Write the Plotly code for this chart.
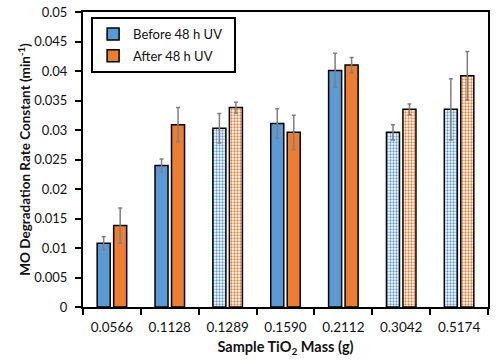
import plotly.graph_objects as go

masses = ["0.0566", "0.1128", "0.1289", "0.1590", "0.2112", "0.3042", "0.5174"]
before = [0.0108, 0.0240, 0.0303, 0.0311, 0.0401, 0.0296, 0.0335]
before_err = [0.0011, 0.0011, 0.0025, 0.0025, 0.0029, 0.0013, 0.0052]
after = [0.0138, 0.0309, 0.0338, 0.0296, 0.0410, 0.0335, 0.0392]
after_err = [0.0030, 0.0029, 0.0009, 0.0029, 0.0013, 0.0009, 0.0041]
patterned = [False, False, True, False, False, True, True]

BLUE = "#5B9BD5"
ORANGE = "#ED7D31"
FONT = "Lato"

def trace(name, y, err, color, group):
    shapes = ["." if p else "" for p in patterned]
    return go.Bar(
        name=name, x=masses, y=y, legendgroup=group,
        marker=dict(
            color=color,
            line=dict(color="black", width=1.5),
            pattern=dict(shape=shapes, fgcolor=color, bgcolor="white",
                         size=3, solidity=0.45, fillmode="replace"),
        ),
        error_y=dict(type="data", array=err, visible=True,
                     color="#7f7f7f", thickness=1.5, width=2),
    )

fig = go.Figure([
    trace("Before 48 h UV\u2002", before, before_err, BLUE, "a"),
    trace("After 48 h UV\u2002", after, after_err, ORANGE, "b"),
])

fig.update_layout(
    width=500, height=362,
    margin=dict(l=83, r=12, t=12, b=55, autoexpand=False),
    paper_bgcolor="white", plot_bgcolor="white",
    barmode="group", bargap=0.43, bargroupgap=0.21,
    font=dict(family=FONT, size=13.5, color="#111"),
    legend=dict(x=0.02, y=0.983, xanchor="left", yanchor="top",
                bordercolor="black", borderwidth=2, bgcolor="white",
                traceorder="grouped", tracegroupgap=2,
                font=dict(family=FONT, size=13, color="#111")),
    xaxis=dict(
        type="category", showline=True, linecolor="black", linewidth=2,
        mirror=True, ticks="outside", tickson="boundaries", ticklen=6,
        tickwidth=2, tickcolor="black", automargin=False,
        ticklabelstandoff=7,
        title=dict(text="<b>Sample TiO<sub>2</sub> Mass (g)</b>",
                   font=dict(size=14.5, color="#111"), standoff=8),
        tickfont=dict(size=13.5),
    ),
    yaxis=dict(
        range=[0, 0.05], dtick=0.005, showgrid=False, zeroline=False,
        showline=True, linecolor="black", linewidth=2, mirror=True,
        ticks="outside", ticklen=6, tickwidth=2, tickcolor="black",
        automargin=False, ticklabelstandoff=5,
        title=dict(text="<b>MO Degradation Rate Constant (min<sup>-1</sup>)</b>",
                   font=dict(size=13.5, color="#111"), standoff=0),
        tickfont=dict(size=13),
    ),
)

fig.write_html("out.html",
               config={"displayModeBar": False},
               post_script="document.body.style.margin='0';")
